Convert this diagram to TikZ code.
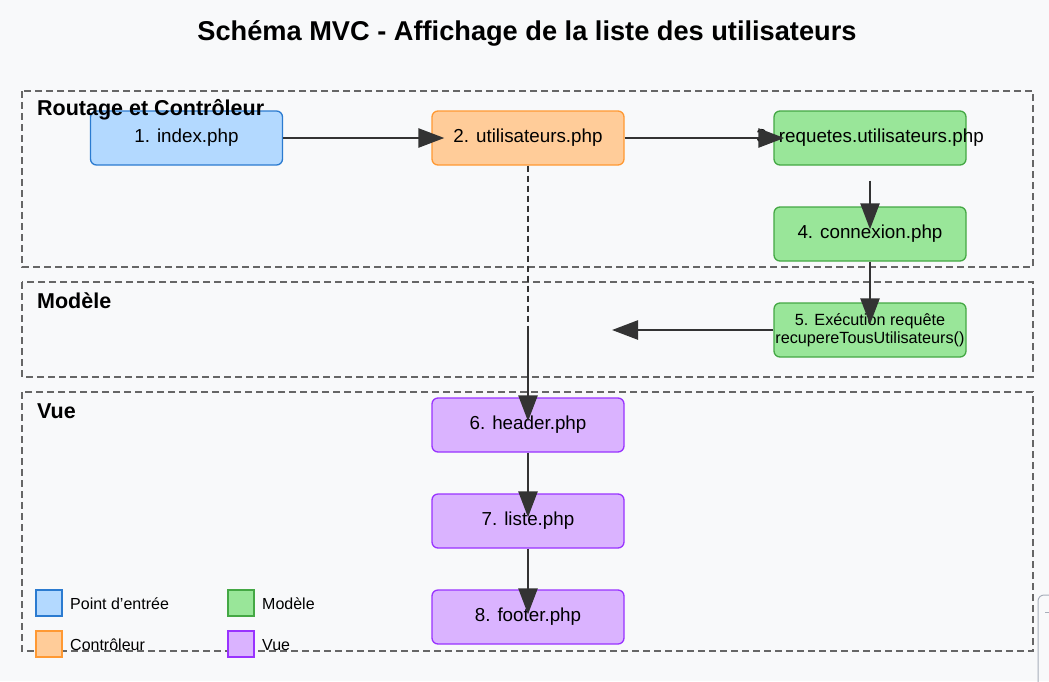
\documentclass[tikz,border=0pt]{standalone}
\usepackage{fontspec}
\setmainfont{Liberation Sans}
\usetikzlibrary{arrows.meta}
\definecolor{bg}{HTML}{F8F9FA}
\definecolor{secline}{HTML}{666666}
\definecolor{arrowc}{HTML}{333333}
\definecolor{bluef}{HTML}{B3D9FF}
\definecolor{blued}{HTML}{2B7BD0}
\definecolor{orangef}{HTML}{FFCC99}
\definecolor{oranged}{HTML}{FF9933}
\definecolor{greenf}{HTML}{99E699}
\definecolor{greend}{HTML}{44A844}
\definecolor{purplef}{HTML}{DAB3FF}
\definecolor{purpled}{HTML}{9933FF}
\definecolor{uigray}{HTML}{A8AEBA}
\tikzset{
  section/.style={draw=secline, line width=1.5pt, dash pattern=on 7pt off 4pt},
  seclabel/.style={anchor=west, font=\bfseries\fontsize{21.5}{25}\selectfont, inner sep=0pt},
  filebox/.style={rectangle, rounded corners=6pt, line width=1.3pt, minimum width=192pt, minimum height=54pt, inner sep=0pt, font=\fontsize{18.8}{22}\selectfont, align=center},
  bluebox/.style={filebox, fill=bluef, draw=blued},
  orangebox/.style={filebox, fill=orangef, draw=oranged},
  greenbox/.style={filebox, fill=greenf, draw=greend},
  purplebox/.style={filebox, fill=purplef, draw=purpled},
  arr/.style={draw=arrowc, line width=2.5pt, -{Triangle[length=26pt,width=19pt]}},
  dasharr/.style={draw=arrowc, line width=2.5pt, dash pattern=on 6pt off 4pt},
  legsq/.style={rectangle, minimum size=26pt, inner sep=0pt, line width=1.5pt},
  legtext/.style={anchor=west, font=\fontsize{16}{19}\selectfont, inner sep=0pt}
}
\begin{document}
\begin{tikzpicture}[x=1pt,y=-1pt]
\fill[bg] (0,0) rectangle (1049,681);
\useasboundingbox (0,0) rectangle (1049,681);

% title
\node[font=\bfseries\fontsize{27.2}{32}\selectfont] (title) at (527,33) {Schéma MVC - Affichage de la liste des utilisateurs};

% sections
\draw[section] (22,91) rectangle (1033,267);
\draw[section] (22,282) rectangle (1033,377);
\draw[section] (22,392) rectangle (1033,651);

% nodes
\node[bluebox] (n1) at (186.5,138) {1. index.php};
\node[orangebox] (n2) at (528,138) {2. utilisateurs.php};
\node[greenbox] (n3) at (870,138) {\makebox[0pt]{3. requetes.utilisateurs.php}};
\node[greenbox] (n4) at (870,234) {4. connexion.php};
\node[greenbox, font=\fontsize{16.2}{17.5}\selectfont] (n5) at (870,330) {5. Exécution requête\\recupereTousUtilisateurs()};
\node[purplebox] (n6) at (528,425) {6. header.php};
\node[purplebox] (n7) at (528,521) {7. liste.php};
\node[purplebox] (n8) at (528,617) {8. footer.php};

\coordinate (join) at (528,328);
\coordinate (modelout) at (612,330);

% connectors
\draw[arr] (n1.east) -- ([xshift=13pt]n2.west);
\draw[arr] (n2.east) -- ([xshift=11pt]n3.west);
\draw[arr] ([yshift=-15pt]n3.south) -- ([yshift=-23pt]n4.north);
\draw[arr] (n4.south) -- ([yshift=-22pt]n5.north);
\draw[arr] (n5.west) -- (modelout);
\draw[dasharr] (n2.south) -- (join);
\draw[arr] (join) -- ([yshift=-24pt]n6.north);
\draw[arr] (n6.south) -- ([yshift=-24pt]n7.north);
\draw[arr] (n7.south) -- ([yshift=-25pt]n8.north);

% section labels
\node[seclabel] (s1) at (37,110) {Routage et Contrôleur};
\node[seclabel] (s2) at (37,301) {Modèle};
\node[seclabel] (s3) at (37,411) {Vue};

% legend
\node[legsq, fill=bluef, draw=blued] (l1) at (49,603) {};
\node[legtext] (t1) at (70,604) {Point d'entrée};
\node[legsq, fill=orangef, draw=oranged] (l2) at (49,644) {};
\node[legtext] (t2) at (70,645) {Contrôleur};
\node[legsq, fill=greenf, draw=greend] (l3) at (241,603) {};
\node[legtext] (t3) at (262,604) {Modèle};
\node[legsq, fill=purplef, draw=purpled] (l4) at (241,644) {};
\node[legtext] (t4) at (262,645) {Vue};

% partial UI element at bottom right edge
\draw[uigray, line width=1pt, rounded corners=6pt] (1052,595) -- (1038,595) -- (1038,684);
\draw[uigray, line width=0.8pt] (1045,612) -- (1049,612);
\end{tikzpicture}
\end{document}
